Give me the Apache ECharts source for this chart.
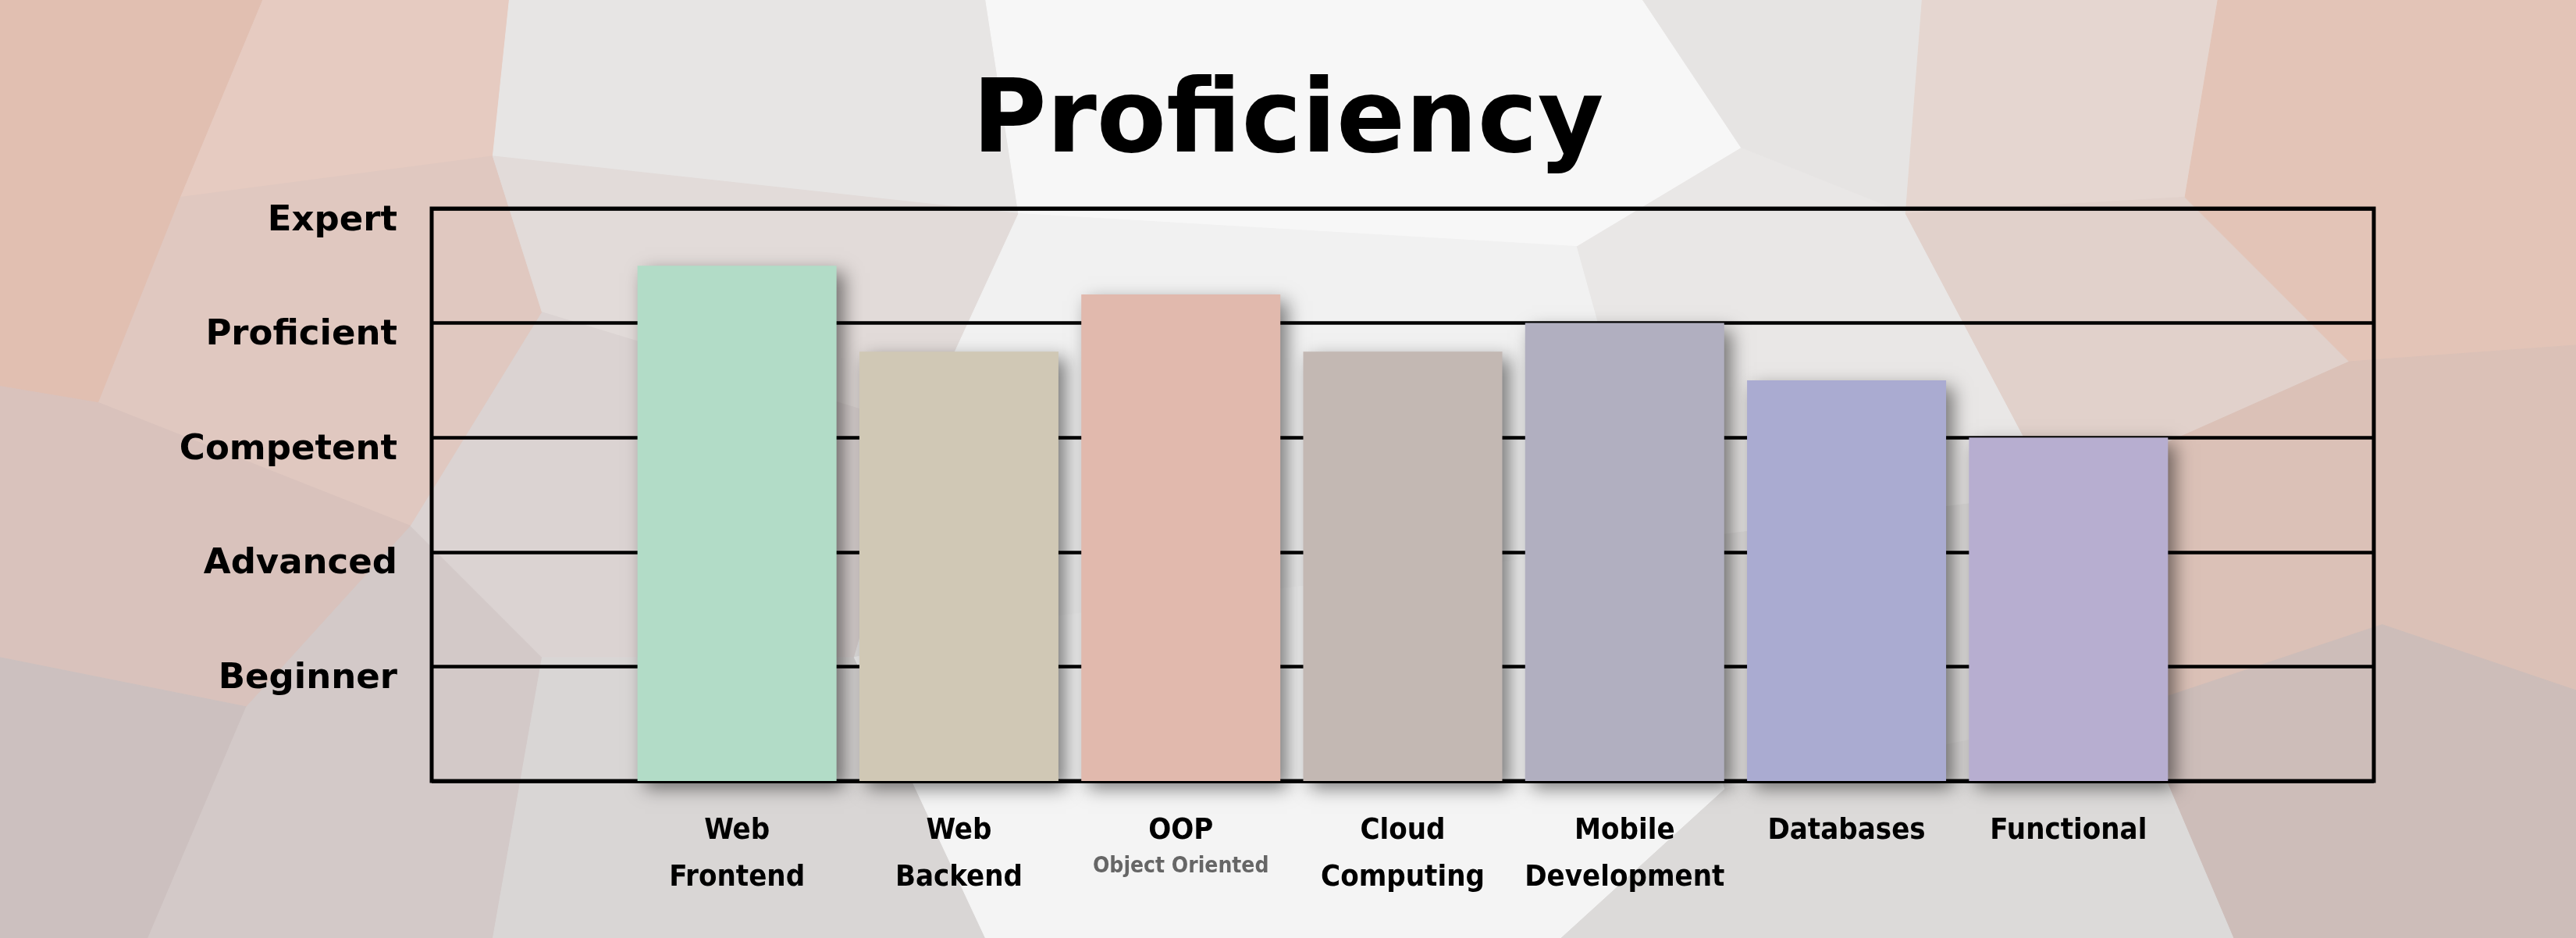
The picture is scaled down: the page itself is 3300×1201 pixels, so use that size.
<!DOCTYPE html>
<html><head><meta charset="utf-8">
<script src="https://cdn.jsdelivr.net/npm/echarts@6/dist/echarts.min.js"></script>
<style>html,body{margin:0;padding:0;background:#e9e4e2;} #c{width:3300px;height:1201px;}</style>
</head><body><div id="c"></div>
<script>
const categories = ['Web\nFrontend','Web\nBackend','OOP','Cloud\nComputing','Mobile\nDevelopment','Databases','Functional'];
const subtitles = ['', '', 'Object Oriented', '', '', '', ''];
const values = [4.5, 3.75, 4.25, 3.75, 4.0, 3.5, 3.0];
const barColors = ['#b2dcc7','#d0c8b5','#e1b9ad','#c3b8b3','#b1afc0','#aaabd1','#b7aed0'];
const levelLabels = ['', 'Beginner', 'Advanced', 'Competent', 'Proficient', 'Expert'];
const titleText = 'Proficiency';

// decorative low-poly background (shrunk-image coordinates, scaled up)
const S = 3300 / 1568;
const bgCells = [
 {c:'#e1bfb1', p:[[0,0],[160,0],[110,120],[60,245],[0,235]]},
 {c:'#e6cbc1', p:[[160,0],[310,0],[300,95],[110,120]]},
 {c:'#e0c8c0', p:[[110,120],[300,95],[330,190],[250,320],[60,245]]},
 {c:'#d9c2bc', p:[[0,235],[60,245],[250,320],[150,430],[0,400]]},
 {c:'#ccc0bf', p:[[0,400],[150,430],[90,571],[0,571]]},
 {c:'#d3c9c8', p:[[150,430],[250,320],[330,400],[300,571],[90,571]]},
 {c:'#e7e5e4', p:[[310,0],[600,0],[620,130],[300,95]]},
 {c:'#e2dbd9', p:[[300,95],[620,130],[560,260],[330,190]]},
 {c:'#dbd3d2', p:[[330,190],[560,260],[520,400],[330,400],[250,320]]},
 {c:'#d9d6d5', p:[[330,400],[520,400],[600,571],[300,571]]},
 {c:'#f7f7f7', p:[[600,0],[1000,0],[1060,90],[960,150],[620,130]]},
 {c:'#f1f1f1', p:[[620,130],[960,150],[1010,330],[600,380],[560,260]]},
 {c:'#e8e6e5', p:[[560,260],[600,380],[520,400]]},
 {c:'#f4f4f4', p:[[520,400],[600,380],[1010,330],[1050,480],[950,571],[600,571]]},
 {c:'#e6e4e3', p:[[1000,0],[1170,0],[1160,130],[1060,90]]},
 {c:'#e9e7e6', p:[[1060,90],[1160,130],[1250,300],[1010,330],[960,150]]},
 {c:'#e1dfde', p:[[1010,330],[1250,300],[1300,430],[1050,480]]},
 {c:'#dcdad9', p:[[1050,480],[1300,430],[1360,571],[950,571]]},
 {c:'#e5d6d0', p:[[1170,0],[1350,0],[1330,120],[1160,130]]},
 {c:'#e1d1cb', p:[[1160,130],[1330,120],[1430,220],[1250,300]]},
 {c:'#e3c4b7', p:[[1350,0],[1568,0],[1568,210],[1430,220],[1330,120]]},
 {c:'#dbc1b7', p:[[1250,300],[1430,220],[1568,210],[1568,420],[1450,380],[1300,430]]},
 {c:'#cdbdb9', p:[[1300,430],[1450,380],[1568,420],[1568,571],[1360,571]]}
];

const chart = echarts.init(document.getElementById('c'), null, {renderer:'canvas'});
const labelFont = "'DejaVu Sans Condensed', 'DejaVu Sans', sans-serif";
const boldFont = "'DejaVu Sans', sans-serif";

chart.setOption({
  backgroundColor: '#e9e4e2',
  animation: false,
  graphic: bgCells.map(cell => ({
    type: 'polygon', z: -10, silent: true,
    shape: { points: cell.p.map(pt => [pt[0] * S, pt[1] * S]) },
    style: { fill: cell.c, stroke: cell.c, lineWidth: 1 }
  })),
  title: {
    text: titleText, left: 'center', top: 90,
    textStyle: { fontFamily: boldFont, fontWeight: 'bold', fontSize: 130, color: '#000' }
  },
  grid: [
    { left: 553, right: 259, top: 267, bottom: 201, show: true, borderColor: '#000', borderWidth: 5, backgroundColor: 'transparent' },
    { left: 802, right: 508, top: 267, bottom: 201 }
  ],
  xAxis: [
    { gridIndex: 0, type: 'value', show: false, min: 0, max: 1 },
    { gridIndex: 1, type: 'category', data: categories,
      axisLine: { show: false }, axisTick: { show: false },
      axisLabel: {
        interval: 0, margin: 34, color: '#000', fontFamily: labelFont, fontWeight: 'bold', fontSize: 38, lineHeight: 60,
        formatter: (v, i) => subtitles[i] ? v + '\n{s|' + subtitles[i] + '}' : v,
        rich: { s: { fontFamily: labelFont, fontWeight: 'bold', fontSize: 28, lineHeight: 32, color: '#666' } }
      } }
  ],
  yAxis: [
    { gridIndex: 0, type: 'value', min: 0, max: 5, interval: 1,
      axisLine: { show: false }, axisTick: { show: false },
      splitLine: { lineStyle: { color: '#000', width: 4.5 } },
      axisLabel: { margin: 44, color: '#000', fontFamily: boldFont, fontWeight: 'bold', fontSize: 45,
        verticalAlign: 'top', lineHeight: 32,
        formatter: v => levelLabels[v] || '' } },
    { gridIndex: 1, type: 'value', min: 0, max: 5, interval: 1, show: false, splitLine: { show: false } }
  ],
  series: [{
    type: 'bar', xAxisIndex: 1, yAxisIndex: 1, barWidth: 255,
    data: values.map((v, i) => ({ value: v, itemStyle: { color: barColors[i] } })),
    itemStyle: { shadowBlur: 22, shadowColor: 'rgba(0,0,0,0.5)', shadowOffsetX: 9, shadowOffsetY: 9 }
  }]
});
</script></body></html>
